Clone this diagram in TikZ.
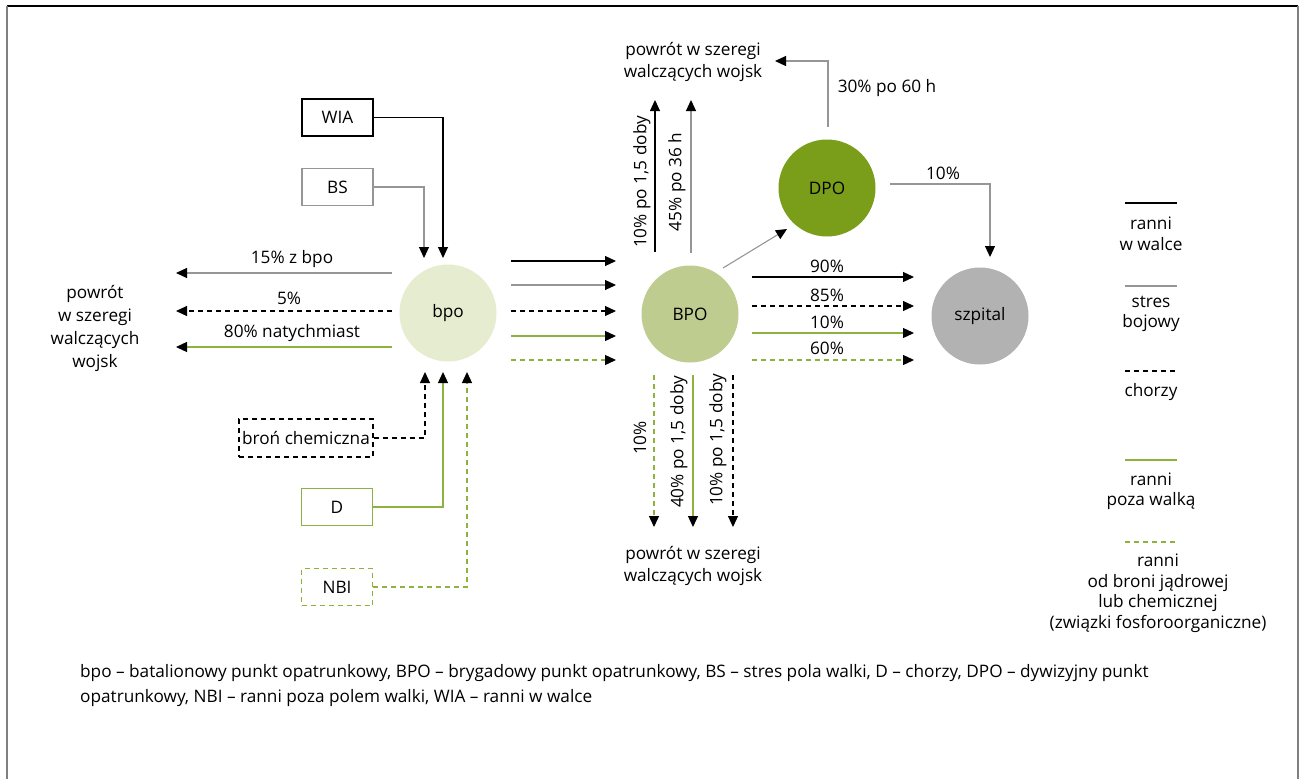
\documentclass[tikz,border=0pt]{standalone}
\usepackage{fontspec}
\setmainfont{Open Sans}
\usetikzlibrary{arrows.meta}
\definecolor{lgreen}{RGB}{141,178,62}
\definecolor{lgray}{RGB}{150,150,150}
\definecolor{cbpo}{RGB}{230,236,208}
\definecolor{cBPO}{RGB}{190,204,143}
\definecolor{cDPO}{RGB}{122,157,26}
\definecolor{cszp}{RGB}{178,178,178}
\begin{document}
\begin{tikzpicture}[x=1pt,y=-1pt,
 font=\fontsize{17.2}{22.5}\selectfont,
 tip/.style={-{Triangle[length=11pt,width=10pt,black]}},
 wl/.style={line width=1.1pt, draw=black},
 sl/.style={line width=1.1pt, draw=lgray},
 dl/.style={line width=1.1pt, draw=black, dash pattern=on 5pt off 4pt},
 gl/.style={line width=1.3pt, draw=lgreen},
 gdl/.style={line width=1.3pt, draw=lgreen, dash pattern=on 5pt off 4pt},
 box/.style={minimum width=71pt, minimum height=37pt, inner sep=2pt},
 circ/.style={circle, minimum size=97pt, inner sep=0pt},
 lbl/.style={inner sep=0pt, align=center},
 leg/.style={inner sep=0pt, align=center, font=\fontsize{17.2}{20.5}\selectfont},
]
\useasboundingbox (0,0) rectangle (1301,779);
% frame
\draw[line width=1.5pt, black] (7,6) -- (1298,6);
\draw[line width=1.5pt, gray] (7,6) -- (7,779);
\draw[line width=1.5pt, gray] (1298,6) -- (1298,779);

% circles
\node[circ, fill=cbpo] (bpo) at (448,313) {bpo};
\node[circ, fill=cBPO] (BPO) at (690,314) {BPO};
\node[circ, fill=cDPO] (DPO) at (827,188) {DPO};
\node[circ, fill=cszp] (szp) at (980,316) {szpital};

% input boxes
\node[box, wl] (wia) at (337.5,117.5) {WIA};
\node[box, sl] (bs) at (337.5,187) {BS};
\node[box, dl, minimum width=134pt, minimum height=38pt] (chem) at (306,438) {broń chemiczna};
\node[box, gl] (d) at (337,507) {D};
\node[box, gdl] (nbi) at (337,587) {NBI};

% coordinates
\coordinate (wiaEnd) at (443,258);
\coordinate (bsEnd) at (424,258);
\coordinate (chemEnd) at (425,372);
\coordinate (dEnd) at (443,372);
\coordinate (nbiEnd) at (467,372);

\draw[wl, tip] (wia.east) -| (wiaEnd);
\draw[sl, tip] (bs.east) -| (bsEnd);
\draw[dl, tip] (chem.east) -| (chemEnd);
\draw[gl, tip] (d.east) -| (dEnd);
\draw[gdl, tip] (nbi.east) -| (nbiEnd);

% left returns
\coordinate (l1s) at (392,273); \coordinate (l1e) at (176,273);
\coordinate (l2s) at (392,311); \coordinate (l2e) at (176,311);
\coordinate (l3s) at (392,347); \coordinate (l3e) at (176,347);
\draw[sl, tip] (l1s) -- (l1e);
\draw[dl, tip] (l2s) -- (l2e);
\draw[gl, tip] (l3s) -- (l3e);
\node[lbl] (t15) at (292,259) {15\% z bpo};
\node[lbl] (t5) at (289,298) {5\%};
\node[lbl] (t80) at (292,333) {80\% natychmiast};
\node[lbl, font=\fontsize{17.2}{23}\selectfont] (retL) at (95,328) {powrót\\w szeregi\\walczących\\wojsk};

% bpo -> BPO
\foreach \yy/\st/\nm in {261/wl/a,285/sl/b,311/dl/c,336/gl/d,360/gdl/e}{
  \coordinate (m\nm s) at (511,\yy);
  \coordinate (m\nm e) at (616,\yy);
  \draw[\st, tip] (m\nm s) -- (m\nm e);
}

% BPO -> szpital
\foreach \yy/\st/\nm in {277/wl/a,306/dl/b,333/gl/c,360/gdl/d}{
  \coordinate (h\nm s) at (752,\yy);
  \coordinate (h\nm e) at (914,\yy);
  \draw[\st, tip] (h\nm s) -- (h\nm e);
}
\node[lbl] (p90) at (827,266) {90\%};
\node[lbl] (p85) at (827,295) {85\%};
\node[lbl] (p10) at (827,322) {10\%};
\node[lbl] (p60) at (827,348) {60\%};

% BPO up
\coordinate (u1s) at (655,252); \coordinate (u1e) at (655,100);
\coordinate (u2s) at (691,253); \coordinate (u2e) at (691,100);
\draw[wl, tip] (u1s) -- (u1e);
\draw[sl, tip] (u2s) -- (u2e);
\node[lbl, rotate=90] (tu1) at (642,182) {10\% po 1,5 doby};
\node[lbl, rotate=90] (tu2) at (677,182) {45\% po 36 h};
\node[lbl] (retT) at (693,62) {powrót w szeregi\\walczących wojsk};

% BPO -> DPO
\coordinate (bdS) at (723,268);
\coordinate (bdE) at (787,229);
\draw[sl, tip] (bdS) -- (bdE);

% DPO up / return
\coordinate (dpTop) at (828,127);
\coordinate (dpEnd) at (775,61);
\draw[sl, tip] (dpTop) |- (dpEnd);
\node[lbl] (t30) at (887,88) {30\% po 60 h};

% DPO -> szpital
\coordinate (dsS) at (890,184);
\coordinate (dsE) at (990,257);
\draw[sl, tip] (dsS) -| (dsE);
\node[lbl] (t10d) at (943,173) {10\%};

% BPO down
\coordinate (d1s) at (654,375); \coordinate (d1e) at (654,527);
\coordinate (d2s) at (693,375); \coordinate (d2e) at (693,527);
\coordinate (d3s) at (733,375); \coordinate (d3e) at (733,527);
\draw[gdl, tip] (d1s) -- (d1e);
\draw[gl, tip] (d2s) -- (d2e);
\draw[dl, tip] (d3s) -- (d3e);
\node[lbl, rotate=90] (td1) at (640,438) {10\%};
\node[lbl, rotate=90] (td2) at (679,442) {40\% po 1,5 doby};
\node[lbl, rotate=90] (td3) at (718,440) {10\% po 1,5 doby};
\node[lbl] (retB) at (693,566) {powrót w szeregi\\walczących wojsk};

% legend
\coordinate (g1a) at (1125,203); \coordinate (g1b) at (1177,203);
\coordinate (g2a) at (1125,286); \coordinate (g2b) at (1177,286);
\coordinate (g3a) at (1125,371); \coordinate (g3b) at (1177,371);
\coordinate (g4a) at (1125,460); \coordinate (g4b) at (1177,460);
\coordinate (g5a) at (1125,542); \coordinate (g5b) at (1177,542);
\draw[wl] (g1a) -- (g1b);
\draw[sl] (g2a) -- (g2b);
\draw[dl] (g3a) -- (g3b);
\draw[gl] (g4a) -- (g4b);
\draw[gdl] (g5a) -- (g5b);
\node[leg] (lg1) at (1151,234) {ranni\\w walce};
\node[leg] (lg2) at (1151,314) {stres\\bojowy};
\node[leg] (lg3) at (1151,392) {chorzy};
\node[leg] (lg4) at (1151,491) {ranni\\poza walką};
\node[leg] (lg5) at (1158,593) {ranni\\od broni jądrowej\\lub chemicznej\\(związki fosforoorganiczne)};

% caption
\node[inner sep=0pt, align=left, anchor=north west, font=\fontsize{17.2}{25}\selectfont] (cap) at (80,664)
 {bpo – batalionowy punkt opatrunkowy, BPO – brygadowy punkt opatrunkowy, BS – stres pola walki, D – chorzy, DPO – dywizyjny punkt\\
  opatrunkowy, NBI – ranni poza polem walki, WIA – ranni w walce};
\end{tikzpicture}
\end{document}
